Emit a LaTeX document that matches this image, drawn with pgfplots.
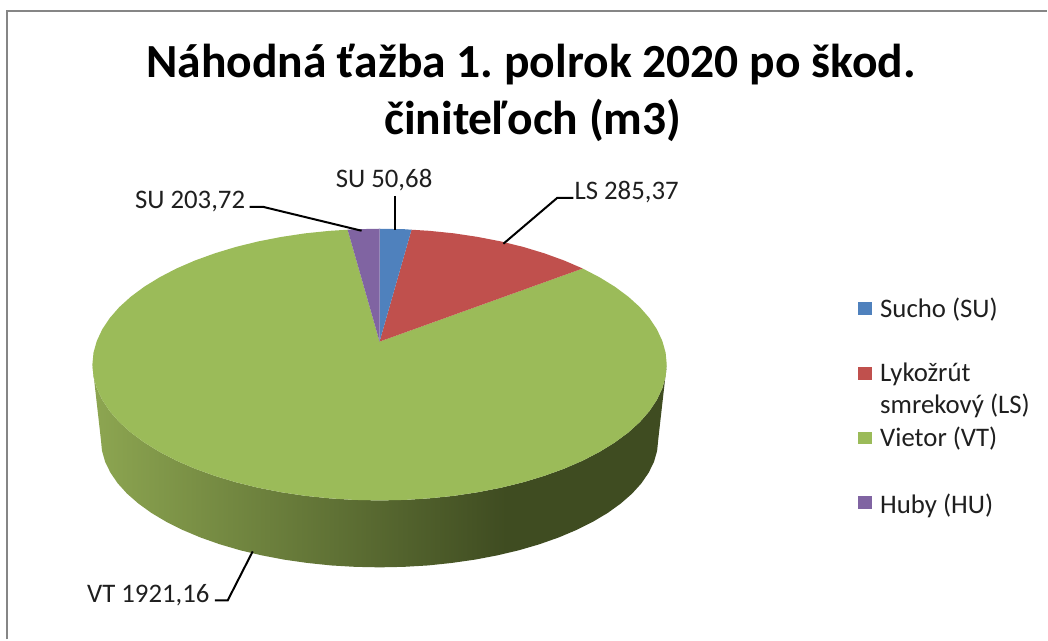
\documentclass[border=0pt]{standalone}
\usepackage{fontspec}
\setmainfont{Carlito}
\usepackage{pgfplots}
\pgfplotsset{compat=1.18}
\definecolor{cblue}{HTML}{4F81BD}
\definecolor{cred}{HTML}{C0504D}
\definecolor{cgreen}{HTML}{9BBB59}
\definecolor{cpurple}{HTML}{8064A2}
\definecolor{cframe}{HTML}{868686}
\definecolor{ctext}{HTML}{1F1F1F}
\definecolor{sidel}{HTML}{8DA651}
\definecolor{sided}{HTML}{3F4C21}
\pgfdeclarehorizontalshading{sideshade}{100bp}{color(0bp)=(sidel); color(25bp)=(sidel); color(61bp)=(sided); color(100bp)=(sided)}
\newcommand{\lab}[3]{\node[anchor=base west,inner sep=0pt,text=ctext,font=\fontsize{26.8}{30}\selectfont] at (axis cs:#1,#2) {#3};}
\frenchspacing
\begin{document}
\begin{tikzpicture}
\path (0pt,0pt) rectangle (1048pt,640pt);
\begin{axis}[
  at={(0pt,0pt)}, anchor=south west,
  scale only axis, width=1048pt, height=640pt,
  xmin=0, xmax=1048, ymin=0, ymax=640, y dir=reverse,
  axis lines=none, clip=false]
% side of the pie
\addplot[draw=none, shade, shading=sideshade] coordinates {
(667.5,365)(666.4,376.9)(663.1,388.6)(657.7,400.2)(650.2,411.5)(640.6,422.5)(629,433)(615.5,443)(600.2,452.4)(583.3,461.2)(564.8,469.2)(544.9,476.4)(523.8,482.8)(501.5,488.3)(478.3,492.8)(454.4,496.4)(429.9,498.9)(405.1,500.5)(380,501)(354.9,500.5)(330.1,498.9)(305.6,496.4)(281.7,492.8)(258.5,488.3)(236.2,482.8)(215.1,476.4)(195.2,469.2)(176.7,461.2)(159.8,452.4)(144.5,443)(131,433)(119.4,422.5)(109.8,411.5)(102.3,400.2)(96.9,388.6)(93.6,376.9)(92.5,365)
(101,440)(102.1,451.2)(105.2,462.2)(110.5,473.1)(117.8,483.8)(127.1,494.1)(138.4,504)(151.4,513.4)(166.3,522.3)(182.7,530.5)(200.7,538.1)(220,544.9)(240.5,550.9)(262.1,556)(284.6,560.3)(307.8,563.6)(331.6,566.1)(355.7,567.5)(380,568)(404.3,567.5)(428.4,566.1)(452.2,563.6)(475.4,560.3)(497.9,556)(519.5,550.9)(540,544.9)(559.3,538.1)(577.3,530.5)(593.7,522.3)(608.6,513.4)(621.6,504)(632.9,494.1)(642.2,483.8)(649.5,473.1)(654.8,462.2)(657.9,451.2)(659,440)
} -- cycle;
% green wedge (Vietor)
\addplot[draw=none, fill=cgreen] coordinates {
(380,342)(583.3,268.8)(600.2,277.6)(615.5,287)(629,297)(640.6,307.5)(650.2,318.5)(657.7,329.8)(663.1,341.4)(666.4,353.1)
(667.5,365)(666.4,376.9)(663.1,388.6)(657.7,400.2)(650.2,411.5)(640.6,422.5)(629,433)(615.5,443)(600.2,452.4)(583.3,461.2)(564.8,469.2)(544.9,476.4)(523.8,482.8)(501.5,488.3)(478.3,492.8)(454.4,496.4)(429.9,498.9)(405.1,500.5)(380,501)(354.9,500.5)(330.1,498.9)(305.6,496.4)(281.7,492.8)(258.5,488.3)(236.2,482.8)(215.1,476.4)(195.2,469.2)(176.7,461.2)(159.8,452.4)(144.5,443)(131,433)(119.4,422.5)(109.8,411.5)(102.3,400.2)(96.9,388.6)(93.6,376.9)(92.5,365)
(93.6,353.1)(96.9,341.4)(102.3,329.8)(109.8,318.5)(119.4,307.5)(131,297)(144.5,287)(159.8,277.6)(176.7,268.8)(195.2,260.8)(215.1,253.6)(236.2,247.2)(258.5,241.7)(281.7,237.2)(305.6,233.6)(330.1,231.1)(348,230)
} -- cycle;
% red wedge (Lykozrut)
\addplot[draw=none, fill=cred] coordinates {
(380,342)(412,230)(429.9,231.1)(454.4,233.6)(478.3,237.2)(501.5,241.7)(523.8,247.2)(544.9,253.6)(564.8,260.8)(583.3,268.8)
} -- cycle;
% blue wedge (Sucho)
\addplot[draw=none, fill=cblue] coordinates {(380,342)(380,229)(405.1,229.5)(412,230)} -- cycle;
% purple wedge (Huby)
\addplot[draw=none, fill=cpurple] coordinates {(380,342)(348,230)(354.9,229.5)(380,229)} -- cycle;
% leader lines
\addplot[black, line width=2pt] coordinates {(395,196)(395,230)};
\addplot[black, line width=2pt] coordinates {(574,198)(558,198)(504,244)};
\addplot[black, line width=2pt] coordinates {(250,207)(263,207)(362,231)};
\addplot[black, line width=2pt] coordinates {(215,601)(228,601)(253,552)};
% frame
\addplot[cframe, line width=2.4pt] coordinates {(7,640)(7,11)(1048,11)};
% legend keys
\addplot[draw=none, fill=cblue] coordinates {(859,302)(873,302)(873,315)(859,315)} -- cycle;
\addplot[draw=none, fill=cred] coordinates {(859,367)(873,367)(873,380)(859,380)} -- cycle;
\addplot[draw=none, fill=cgreen] coordinates {(859,432)(873,432)(873,445)(859,445)} -- cycle;
\addplot[draw=none, fill=cpurple] coordinates {(859,497)(873,497)(873,510)(859,510)} -- cycle;
% title
\node[anchor=base,inner sep=0pt,font=\fontsize{47.6}{56}\selectfont\bfseries] at (axis cs:531.5,78) {Náhodná ťažba 1. polrok 2020 po škod.};
\node[anchor=base,inner sep=0pt,font=\fontsize{47.6}{56}\selectfont\bfseries] at (axis cs:533.5,135) {činiteľoch (m3)};
% data labels
\lab{336}{188}{SU 50,68}
\lab{575}{200}{LS 285,37}
\lab{135}{209}{SU 203,72}
\lab{87}{603}{VT 1921,16}
% legend text
\lab{881}{318}{Sucho (SU)}
\lab{881}{382}{Lykožrút}
\lab{881}{414}{smrekový (LS)}
\lab{881}{447}{Vietor (VT)}
\lab{881}{514}{Huby (HU)}
\end{axis}
\end{tikzpicture}
\end{document}
